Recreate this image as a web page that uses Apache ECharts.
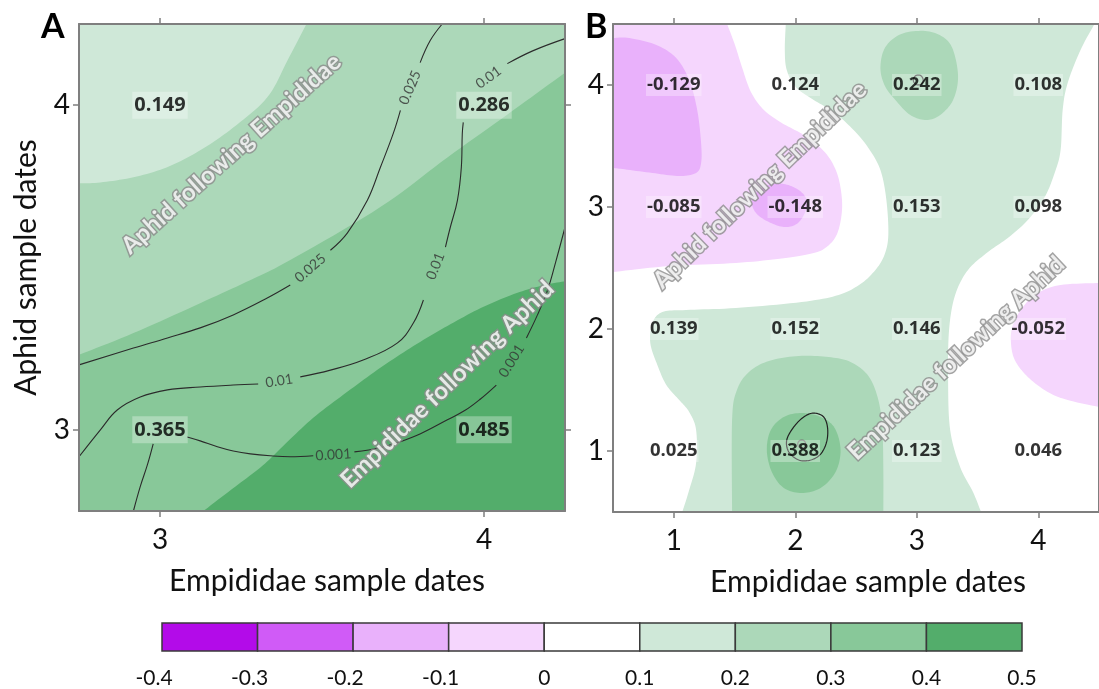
<!DOCTYPE html>
<html>
<head>
<meta charset="utf-8">
<script src="https://cdn.jsdelivr.net/npm/echarts@6/dist/echarts.min.js"></script>
<style>
  html, body { margin: 0; padding: 0; background: #fff; }
  #chart { width: 1099px; height: 689px; }
</style>
</head>
<body>
<div id="chart"></div>
<script>
const FONT = 'Lato, "Open Sans", sans-serif';
const VALUE_FONT = '"Open Sans", Lato, sans-serif';

// ---- colour scale of the cross-correlation ----
const legendBreaks = [-0.4, -0.3, -0.2, -0.1, 0, 0.1, 0.2, 0.3, 0.4, 0.5];
const legendColors = ['#b30be9', '#d05bf7', '#e9b1fb', '#f5d6fd', '#ffffff',
                      '#cfe8d8', '#acd8b9', '#88c899', '#53ad6b'];

// ---- panel A: sample dates 3-4 ----
const aRange = [2.75, 4.25];
const aColDates = [3, 4];          // Empididae sample dates
const aRowDates = [4, 3];          // Aphid sample dates
const aCorrRows = [[0.149, 0.286],
                   [0.365, 0.485]];

// class boundaries of the smoothed surface (data units)
const aEdge20 = [[2.75,3.759],[2.816,3.762],[2.918,3.778],[3.022,3.809],[3.124,3.861],[3.226,3.931],[3.331,4.024],[3.393,4.137],[3.452,4.25]];
const aEdge30 = [[2.75,3.231],[2.918,3.298],[3.124,3.39],[3.278,3.461],[3.402,3.523],[3.68,3.686],[3.887,3.839],[4.09,3.984],[4.25,4.1]];
const aEdge40 = [[3.134,2.75],[3.232,2.825],[3.316,2.889],[3.387,2.957],[3.473,3.037],[3.578,3.117],[3.68,3.191],[3.782,3.258],[3.887,3.32],[3.99,3.375],[4.092,3.418],[4.174,3.443],[4.25,3.458]];

// significance contours (p levels), split where their labels sit
const aLine025 = [
  [[2.75,3.2],[2.918,3.252],[3.023,3.283],[3.124,3.314],[3.226,3.354],[3.331,3.406],[3.402,3.446]],
  [[3.526,3.553],[3.578,3.606],[3.64,3.707],[3.68,3.808],[3.72,3.913],[3.742,3.984]],
  [[3.803,4.131],[3.834,4.199],[3.871,4.25]]
];
const aLine010 = [
  [[2.75,2.917],[2.816,3.0],[2.868,3.061],[2.939,3.101],[3.023,3.123],[3.124,3.132],[3.226,3.138],[3.303,3.141]],
  [[3.433,3.163],[3.526,3.184],[3.627,3.215],[3.732,3.267],[3.782,3.329],[3.813,3.4]],
  [[3.881,3.563],[3.896,3.624],[3.918,3.707],[3.93,3.808],[3.933,3.913],[3.936,3.947]],
  [[4.072,4.128],[4.152,4.168],[4.25,4.205]]
];
const aLine001 = [
  [[2.918,2.75],[2.939,2.825],[2.961,2.892],[2.979,2.957]],
  [[3.084,2.978],[3.124,2.966],[3.177,2.948],[3.226,2.935],[3.279,2.926],[3.34,2.92],[3.402,2.917],[3.473,2.92]],
  [[3.6,2.932],[3.68,2.945],[3.732,2.96],[3.804,2.988],[3.887,3.031],[3.943,3.061],[3.989,3.095],[4.038,3.138]],
  [[4.131,3.283],[4.165,3.354],[4.196,3.43],[4.221,3.516],[4.25,3.624]]
];
// [x, y, text, angle]
const aContourText = [
  [3.464,3.498,'0.025',41],[3.772,4.054,'0.025',67],
  [3.368,3.151,'0.01',9],[3.85,3.504,'0.01',68],[4.014,4.085,'0.01',36],
  [3.535,2.923,'0.001',4],[4.085,3.212,'0.001',58]
];
const aNotes = [
  [3.22,3.85,'Aphid following Empididae',42],
  [3.887,3.14,'Empididae following Aphid',44]
];

// ---- panel B: sample dates 1-4 ----
const bRange = [0.5, 4.5];
const bColDates = [1, 2, 3, 4];
const bRowDates = [4, 3, 2, 1];
const bCorrRows = [[-0.129, 0.124, 0.242, 0.108],
                   [-0.085, -0.148, 0.153, 0.098],
                   [0.139, 0.152, 0.146, -0.052],
                   [0.025, 0.388, 0.123, 0.046]];

const bPinkEdge = [[1.439,4.5],[1.504,4.328],[1.561,4.148],[1.635,3.943],[1.742,3.795],[1.889,3.689],[2.069,3.59],[2.242,3.451],[2.34,3.287],[2.381,3.098],[2.381,2.934],[2.34,2.77],[2.258,2.672],[2.152,2.623],[1.922,2.582],[1.512,2.541],[0.963,2.516],[0.5,2.467]];
const bPurpleEdge = [[0.5,4.385],[0.635,4.385],[0.857,4.328],[1.02,4.221],[1.127,4.041],[1.193,3.795],[1.225,3.525],[1.225,3.361],[1.184,3.279],[1.045,3.254],[0.824,3.279],[0.578,3.311],[0.5,3.32]];
const bPurpleBlob = [[1.643,3.033],[1.684,3.123],[1.783,3.18],[1.906,3.189],[2.029,3.139],[2.094,3.057],[2.078,2.951],[2.012,2.861],[1.906,2.836],[1.783,2.877],[1.684,2.943]];
const bPinkBlobEdge = [[4.5,2.377],[4.184,2.361],[3.996,2.295],[3.873,2.18],[3.791,2.033],[3.775,1.893],[3.807,1.746],[3.914,1.607],[4.078,1.484],[4.242,1.418],[4.5,1.361]];
const bGreenEast = [[4.463,4.5],[4.348,4.287],[4.242,4.016],[4.201,3.795],[4.184,3.467],[4.135,3.279],[4.053,3.082],[3.914,2.893],[3.749,2.746],[3.586,2.631],[3.422,2.484],[3.316,2.279],[3.266,1.992],[3.258,1.582],[3.275,1.172],[3.357,0.869],[3.463,0.664],[3.529,0.5]];
const bGreenWest = [[1.07,0.5],[1.127,0.68],[1.184,0.902],[1.184,1.172],[1.127,1.32],[1.045,1.418],[0.939,1.541],[0.865,1.705],[0.807,1.885],[0.824,2.049],[0.906,2.139],[1.102,2.156],[1.512,2.172],[2.053,2.221],[2.357,2.279],[2.537,2.369],[2.66,2.484],[2.734,2.607],[2.766,2.77],[2.75,3.057],[2.701,3.303],[2.602,3.484],[2.48,3.631],[2.316,3.779],[2.152,3.877],[2.004,3.984],[1.93,4.123],[1.914,4.287],[1.922,4.5]];
const bMidGreenTop = [[2.701,4.148],[2.742,4.311],[2.873,4.418],[3.07,4.443],[3.217,4.393],[3.299,4.287],[3.34,4.066],[3.299,3.877],[3.193,3.754],[3.078,3.713],[2.947,3.754],[2.824,3.877],[2.734,4.0]];
const bMidGreenBottom = [[1.48,0.5],[1.48,1.254],[1.52,1.5],[1.619,1.648],[1.783,1.738],[2.029,1.779],[2.275,1.77],[2.455,1.73],[2.602,1.615],[2.684,1.418],[2.717,1.172],[2.725,0.844],[2.725,0.5]];
const bDarkGreen = [[1.766,1.008],[1.799,1.172],[1.906,1.279],[2.053,1.311],[2.209,1.279],[2.324,1.189],[2.373,1.008],[2.332,0.828],[2.209,0.697],[2.053,0.656],[1.906,0.697],[1.807,0.828]];
const bLoop = [[2.152,1.311],[2.234,1.279],[2.266,1.189],[2.258,1.074],[2.209,0.975],[2.127,0.926],[2.029,0.926],[1.947,0.992],[1.93,1.09],[1.988,1.197],[2.07,1.279]];
const bRing1 = [[2.02,1.057],[2.037,1.086],[2.07,1.086],[2.086,1.057],[2.07,1.028],[2.037,1.028]];
const bRing2 = [[2.971,4.041],[2.992,4.077],[3.033,4.077],[3.053,4.041],[3.033,4.005],[2.992,4.005]];
const bNotes = [
  [1.709,3.18,'Aphid following Empididae',44],
  [3.324,1.762,'Empididae following Aphid',43]
];

// ---- drawing helpers ----
// Catmull-Rom curve through pixel points
function curve(pts, closed) {
  const n = pts.length, out = [], seg = 10;
  const at = i => closed ? pts[(i + n) % n] : pts[Math.max(0, Math.min(n - 1, i))];
  const last = closed ? n : n - 1;
  for (let i = 0; i < last; i++) {
    const p0 = at(i - 1), p1 = at(i), p2 = at(i + 1), p3 = at(i + 2);
    for (let t = 0; t < seg; t++) {
      const s = t / seg, s2 = s * s, s3 = s2 * s;
      const f = k => 0.5 * (2 * p1[k] + (-p0[k] + p2[k]) * s +
        (2 * p0[k] - 5 * p1[k] + 4 * p2[k] - p3[k]) * s2 +
        (-p0[k] + 3 * p1[k] - 3 * p2[k] + p3[k]) * s3);
      out.push([f(0), f(1)]);
    }
  }
  if (!closed) out.push(pts[n - 1]);
  return out;
}
const poly = (points, fill) => ({ type: 'polygon', shape: { points }, style: { fill, stroke: null } });
const ring = (points, stroke) => ({ type: 'polygon', shape: { points }, style: { fill: null, stroke, lineWidth: 1.2 } });

function renderA(params, api) {
  const c = p => api.coord(p);
  const [lo, hi] = aRange;
  return { type: 'group', children: [
    poly([[lo, lo], [hi, lo], [hi, hi], [lo, hi]].map(c), legendColors[7]),
    poly(curve(aEdge30.map(c)).concat([c([hi, hi]), c([lo, hi])]), legendColors[6]),
    poly(curve(aEdge20.map(c)).concat([c([lo, hi])]), legendColors[5]),
    poly(curve(aEdge40.map(c)).concat([c([hi, lo])]), legendColors[8])
  ]};
}

function renderB(params, api) {
  const c = p => api.coord(p);
  const [lo, hi] = bRange;
  return { type: 'group', children: [
    poly(curve(bPinkEdge.map(c)).concat([c([lo, hi])]), legendColors[3]),
    poly(curve(bPurpleEdge.map(c)), legendColors[2]),
    poly(curve(bPurpleBlob.map(c), true), legendColors[2]),
    poly(curve(bPinkBlobEdge.map(c)), legendColors[3]),
    poly(curve(bGreenEast.map(c)).concat(curve(bGreenWest.map(c))), legendColors[5]),
    poly(curve(bMidGreenTop.map(c), true), legendColors[6]),
    poly(curve(bMidGreenBottom.map(c)), legendColors[6]),
    poly(curve(bDarkGreen.map(c), true), legendColors[7]),
    ring(curve(bLoop.map(c), true), '#222'),
    ring(curve(bRing1.map(c), true), '#777'),
    ring(curve(bRing2.map(c), true), '#444')
  ]};
}

function renderLegend(params, api) {
  return { type: 'group', children: legendColors.map((col, i) => {
    const p0 = api.coord([legendBreaks[i], 0]);
    const p1 = api.coord([legendBreaks[i + 1], 1]);
    return { type: 'rect',
      shape: { x: p0[0], y: p1[1], width: p1[0] - p0[0], height: p0[1] - p1[1] },
      style: { fill: col, stroke: '#3a3a3a', lineWidth: 1.5 } };
  })};
}

// ---- axes ----
const axisGray = '#7f7f7f';
function valAxis(gridIndex, range, ticks, position, labelled, extra) {
  return Object.assign({
    type: 'value', gridIndex, position, min: range[0], max: range[1], z: 10,
    axisLine: { show: true, onZero: false, lineStyle: { color: axisGray, width: 2 } },
    axisTick: { show: true, inside: false, customValues: ticks, length: 6,
                lineStyle: { color: axisGray, width: 1.5 } },
    axisLabel: { show: labelled, customValues: ticks, fontFamily: FONT, fontSize: 28,
                 color: '#111', margin: (position === 'bottom') ? 15 : 9 },
    splitLine: { show: false }
  }, extra || {});
}
const nameStyle = pad => ({ fontFamily: FONT, fontSize: 30, color: '#111', padding: pad });

// ---- label series ----
function valueLabels(xi, yi, cols, rows, table, size, pad) {
  const data = [];
  rows.forEach((y, r) => cols.forEach((x, k) => {
    data.push({ value: [x, y], label: { formatter: table[r][k].toFixed(3) } });
  }));
  return { type: 'scatter', xAxisIndex: xi, yAxisIndex: yi, z: 20, silent: true,
    symbolSize: 1, itemStyle: { color: 'rgba(0,0,0,0)' }, data,
    label: { show: true, position: 'inside', fontFamily: VALUE_FONT, fontWeight: 'bold',
      fontSize: size, color: '#000', backgroundColor: 'rgba(255,255,255,0.38)', padding: pad } };
}
function noteLabels(xi, yi, notes) {
  return { type: 'scatter', xAxisIndex: xi, yAxisIndex: yi, z: 18, silent: true,
    symbolSize: 1, itemStyle: { color: 'rgba(0,0,0,0)' },
    data: notes.map(n => ({ value: [n[0], n[1]], label: { formatter: n[2], rotate: n[3] } })),
    label: { show: true, position: 'inside', fontFamily: FONT, fontWeight: 'bold', fontSize: 24,
      color: '#ffffff', textBorderColor: '#8c8c8c', textBorderWidth: 3 } };
}
function contourSeries(segments) {
  return segments.map(seg => ({ type: 'line', xAxisIndex: 0, yAxisIndex: 0, z: 6, silent: true,
    data: seg, smooth: 0.4, showSymbol: false, symbol: 'none',
    lineStyle: { color: '#2b2b2b', width: 1.1 } }));
}
const fmt1 = v => String(Math.round(v * 10) / 10);

const option = {
  animation: false,
  backgroundColor: '#ffffff',
  title: [
    { text: 'A', left: 36, top: 5, textStyle: { fontFamily: FONT, fontSize: 34, fontWeight: 'bold', color: '#000' } },
    { text: 'B', left: 580, top: 5, textStyle: { fontFamily: FONT, fontSize: 34, fontWeight: 'bold', color: '#000' } }
  ],
  grid: [
    { left: 79, top: 24, width: 486, height: 487 },
    { left: 613, top: 24, width: 488, height: 488 },
    { left: 162, top: 623, width: 860, height: 29 }
  ],
  xAxis: [
    valAxis(0, aRange, aColDates, 'bottom', true, { name: 'Empididae sample dates', nameLocation: 'middle', nameGap: 55, nameTextStyle: nameStyle([0, 0, 0, 10]) }),
    valAxis(0, aRange, aColDates, 'top', false),
    valAxis(1, bRange, bColDates, 'bottom', true, { name: 'Empididae sample dates', nameLocation: 'middle', nameGap: 55, nameTextStyle: nameStyle([0, 0, 0, 24]) }),
    valAxis(1, bRange, bColDates, 'top', false),
    { type: 'value', gridIndex: 2, min: legendBreaks[0], max: legendBreaks[legendBreaks.length - 1],
      axisLine: { show: false }, axisTick: { show: false }, splitLine: { show: false },
      axisLabel: { customValues: legendBreaks, margin: 17, fontFamily: FONT, fontSize: 21, color: '#111',
        formatter: v => v < 0 ? '{neg|' + fmt1(v) + '}' : fmt1(v),
        rich: { neg: { fontFamily: FONT, fontSize: 21, color: '#111', padding: [0, 16, 0, 0] } } } }
  ],
  yAxis: [
    valAxis(0, aRange, aRowDates, 'left', true, { name: 'Aphid sample dates', nameLocation: 'middle', nameGap: 38, nameTextStyle: nameStyle([0, 0, 0, 0]) }),
    valAxis(0, aRange, aRowDates, 'right', false),
    valAxis(1, bRange, bRowDates, 'left', true),
    valAxis(1, bRange, bRowDates, 'right', false),
    { type: 'value', gridIndex: 2, min: 0, max: 1, show: false }
  ],
  series: [
    { type: 'custom', xAxisIndex: 0, yAxisIndex: 0, z: 1, silent: true, clip: true,
      data: [[aColDates[0], aRowDates[1]]], renderItem: renderA },
    { type: 'custom', xAxisIndex: 2, yAxisIndex: 2, z: 1, silent: true, clip: true,
      data: [[bColDates[0], bRowDates[3]]], renderItem: renderB },
    { type: 'custom', xAxisIndex: 4, yAxisIndex: 4, z: 1, silent: true,
      data: [[0, 0]], renderItem: renderLegend },
    ...contourSeries(aLine025),
    ...contourSeries(aLine010),
    ...contourSeries(aLine001),
    { type: 'scatter', xAxisIndex: 0, yAxisIndex: 0, z: 8, silent: true,
      symbolSize: 1, itemStyle: { color: 'rgba(0,0,0,0)' },
      data: aContourText.map(t => ({ value: [t[0], t[1]], label: { formatter: t[2], rotate: t[3] } })),
      label: { show: true, position: 'inside', fontFamily: FONT, fontSize: 14, color: '#333' } },
    noteLabels(0, 0, aNotes),
    noteLabels(2, 2, bNotes),
    valueLabels(0, 0, aColDates, aRowDates, aCorrRows, 20, [4, 2, 3, 2]),
    valueLabels(2, 2, bColDates, bRowDates, bCorrRows, 18.5, [2, 1, 1, 1])
  ]
};

const chart = echarts.init(document.getElementById('chart'), null, { renderer: 'canvas' });
chart.setOption(option);
</script>
</body>
</html>
